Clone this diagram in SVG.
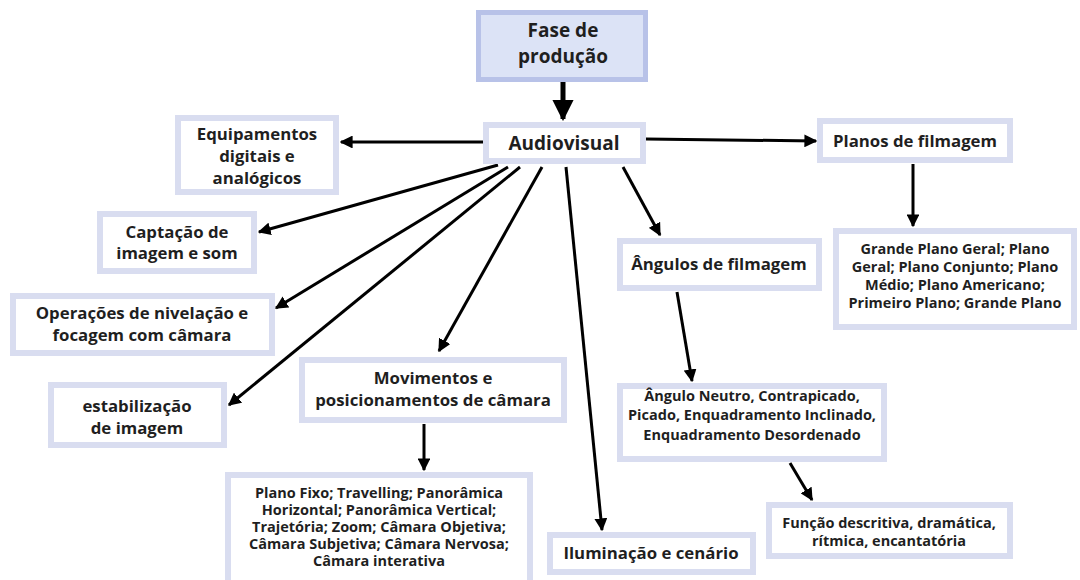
<svg xmlns="http://www.w3.org/2000/svg" width="1080" height="580" viewBox="0 0 1080 580">
<style>
.box{fill:#ffffff;stroke:#d9ddf0;stroke-width:6}
.top{fill:#dce3f6;stroke:#b8c2e8;stroke-width:5}
text{font-family:"Open Sans","Lato","DejaVu Sans",sans-serif;font-weight:700;fill:#1f1f1f;text-anchor:middle}
.l{font-size:19px}
.a{font-size:19px}
.m{font-size:16.8px}
.s{font-size:14.5px}
.c line{stroke:#000;stroke-width:3}
</style>
<defs>
<marker id="ah" viewBox="0 0 10 10" refX="9" refY="5" markerWidth="4.3" markerHeight="4.3" orient="auto" markerUnits="strokeWidth">
<path d="M0,0L10,5L0,10z" fill="#000"/>
</marker>
</defs>
<rect width="1080" height="580" fill="#fff"/>
<g class="c">
<line x1="563" y1="82" x2="563" y2="119" style="stroke-width:5" marker-end="url(#ah)"/>
<line x1="483" y1="142" x2="341" y2="142" marker-end="url(#ah)"/>
<line x1="646" y1="139" x2="816" y2="141" marker-end="url(#ah)"/>
<line x1="498" y1="165" x2="259" y2="232" marker-end="url(#ah)"/>
<line x1="508" y1="167" x2="276" y2="308" marker-end="url(#ah)"/>
<line x1="520" y1="167" x2="229" y2="405" marker-end="url(#ah)"/>
<line x1="542" y1="167" x2="439" y2="351" marker-end="url(#ah)"/>
<line x1="566" y1="167" x2="602" y2="530" marker-end="url(#ah)"/>
<line x1="623" y1="167" x2="660" y2="235" marker-end="url(#ah)"/>
<line x1="913" y1="164" x2="913" y2="226" marker-end="url(#ah)"/>
<line x1="424" y1="424" x2="424" y2="470" marker-end="url(#ah)"/>
<line x1="677" y1="292" x2="692" y2="381" marker-end="url(#ah)"/>
<line x1="790" y1="463" x2="812" y2="500" marker-end="url(#ah)"/>
</g>
<g id="fase"><rect class="top" x="478.5" y="12.5" width="167" height="67"/><text class="l" x="563" y="37">Fase de</text><text class="l" x="563" y="63">produção</text></g>
<g id="audiovisual"><rect class="box" x="486" y="125" width="157" height="36"/><text class="a" x="564" y="150">Audiovisual</text></g>
<g id="equipamentos"><rect class="box" x="178" y="118" width="158" height="74"/><text class="m" x="257" y="140">Equipamentos</text><text class="m" x="257" y="162">digitais e</text><text class="m" x="257" y="184">analógicos</text></g>
<g id="captacao"><rect class="box" x="100" y="214" width="154" height="57"/><text class="m" x="177" y="238">Captação de</text><text class="m" x="177" y="259">imagem e som</text></g>
<g id="operacoes"><rect class="box" x="13" y="296" width="259" height="57"/><text class="m" x="142" y="319">Operações de nivelação e</text><text class="m" x="142" y="341">focagem com câmara</text></g>
<g id="estabilizacao"><rect class="box" x="51" y="385" width="173" height="60"/><text class="m" x="137" y="412">estabilização</text><text class="m" x="137" y="434">de imagem</text></g>
<g id="movimentos"><rect class="box" x="302" y="360" width="262" height="60"/><text class="m" x="433" y="384">Movimentos e</text><text class="m" x="433" y="406">posicionamentos de câmara</text></g>
<g id="planofixo"><rect class="box" x="228" y="475" width="302" height="108"/><text class="s" x="379" y="498">Plano Fixo; Travelling; Panorâmica</text><text class="s" x="379" y="515">Horizontal; Panorâmica Vertical;</text><text class="s" x="379" y="532">Trajetória; Zoom; Câmara Objetiva;</text><text class="s" x="379" y="549">Câmara Subjetiva; Câmara Nervosa;</text><text class="s" x="379" y="566">Câmara interativa</text></g>
<g id="iluminacao"><rect class="box" x="550" y="535" width="203" height="37"/><text class="m" x="651" y="559">Iluminação e cenário</text></g>
<g id="angulos"><rect class="box" x="620" y="241" width="199" height="47"/><text class="m" x="719" y="270">Ângulos de filmagem</text></g>
<g id="anguloneutro"><rect class="box" x="620" y="386" width="264" height="73"/><text class="s" x="752" y="401">Ângulo Neutro, Contrapicado,</text><text class="s" x="752" y="420">Picado, Enquadramento Inclinado,</text><text class="s" x="752" y="440">Enquadramento Desordenado</text></g>
<g id="funcao"><rect class="box" x="769" y="505" width="241" height="51"/><text class="s" x="889" y="528">Função descritiva, dramática,</text><text class="s" x="889" y="546">rítmica, encantatória</text></g>
<g id="planos"><rect class="box" x="820" y="121" width="190" height="39"/><text class="m" x="915" y="147">Planos de filmagem</text></g>
<g id="grandeplano"><rect class="box" x="836" y="231" width="238" height="96"/><text class="s" x="955" y="254">Grande Plano Geral; Plano</text><text class="s" x="955" y="272">Geral; Plano Conjunto; Plano</text><text class="s" x="955" y="290">Médio; Plano Americano;</text><text class="s" x="955" y="308">Primeiro Plano; Grande Plano</text></g>
</svg>
